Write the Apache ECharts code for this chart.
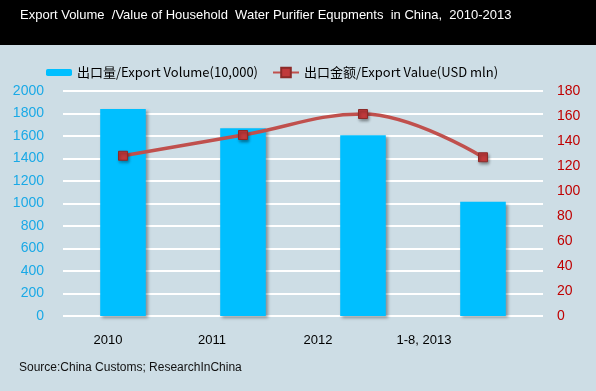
<!DOCTYPE html>
<html><head><meta charset="utf-8">
<script src="https://cdn.jsdelivr.net/npm/echarts@6/dist/echarts.min.js"></script>
<style>html,body{margin:0;padding:0;background:#cddde5;}#c{width:596px;height:391px;}</style>
</head><body><div id="c"></div>
<script>
const categories = ['2010', '2011', '2012', '1-8, 2013'];
const exportVolume = [1840, 1668, 1606, 1016];
const exportValue = [128.2, 144.8, 161.6, 127.0];
const leftTicks = {min: 0, max: 2000, interval: 200};
const rightTicks = {min: 0, max: 180, interval: 20};
const volName = '出口量/Export Volume(10,000)';
const valName = '出口金额/Export Value(USD mln)';
const titleText = 'Export Volume  /Value of Household  Water Purifier Equpments  in China,  2010-2013';
const sourceText = 'Source:China Customs; ResearchInChina';

const labelShift = [30, 62, 90, 118];
const chart = echarts.init(document.getElementById('c'));
const rich = {};
labelShift.forEach((p, i) => { rich['l' + i] = {padding: [0, p, 0, 0], fontSize: 13, color: '#000', fontFamily: 'Liberation Sans'}; });
chart.setOption({
  backgroundColor: '#cddde5',
  animation: false,
  graphic: [
    {type: 'rect', left: 0, top: 0, shape: {width: 596, height: 45}, style: {fill: '#000'}, z: -1},
    {type: 'text', left: 20, top: 9, style: {text: titleText, fill: '#fff', font: '13px "Liberation Sans"'}},
    {type: 'text', left: 19, top: 362, style: {text: sourceText, fill: '#111', font: '12px "Liberation Sans"'}}
  ],
  legend: [
    {data: [volName], left: 41, top: 61, itemWidth: 26, itemHeight: 7, itemGap: 4,
     textStyle: {fontSize: 13, color: '#000', fontFamily: '"Noto Sans CJK SC"'}},
    {data: [valName], left: 267, top: 61, itemWidth: 26, itemHeight: 12, itemGap: 4,
     textStyle: {fontSize: 13, color: '#000', fontFamily: '"Noto Sans CJK SC"'}}
  ],
  grid: {left: 63, right: 53, top: 91, bottom: 75},
  xAxis: {
    type: 'category', data: categories,
    axisLine: {show: false}, axisTick: {show: false},
    axisLabel: {margin: 18, formatter: (v, i) => '{l' + i + '|' + v + '}', rich: rich}
  },
  yAxis: [
    {type: 'value', min: leftTicks.min, max: leftTicks.max, interval: leftTicks.interval,
     axisLine: {show: false}, axisTick: {show: false},
     axisLabel: {margin: 19, color: '#1aa9e6', fontSize: 14, fontFamily: 'Liberation Sans', formatter: v => String(v)},
     splitLine: {lineStyle: {color: '#ffffff', width: 2}}},
    {type: 'value', min: rightTicks.min, max: rightTicks.max, interval: rightTicks.interval,
     axisLine: {show: false}, axisTick: {show: false},
     axisLabel: {margin: 14, color: '#c00000', fontSize: 14, fontFamily: 'Liberation Sans', formatter: v => String(v)},
     splitLine: {show: false}}
  ],
  series: [
    {name: volName, type: 'bar', data: exportVolume, yAxisIndex: 0, barWidth: '38%',
     itemStyle: {color: '#00bfff', shadowColor: 'rgba(0,0,0,0.35)', shadowBlur: 3, shadowOffsetX: 2, shadowOffsetY: 2}},
    {name: valName, type: 'line', data: exportValue, yAxisIndex: 1, smooth: 0.4,
     symbol: 'rect', symbolSize: 9,
     lineStyle: {color: '#c0504d', width: 3.5},
     itemStyle: {color: '#c0393b', borderColor: '#8c2a28', borderWidth: 1, shadowColor: 'rgba(0,0,0,0.4)', shadowBlur: 3, shadowOffsetX: 1, shadowOffsetY: 2}}
  ]
});
</script></body></html>
